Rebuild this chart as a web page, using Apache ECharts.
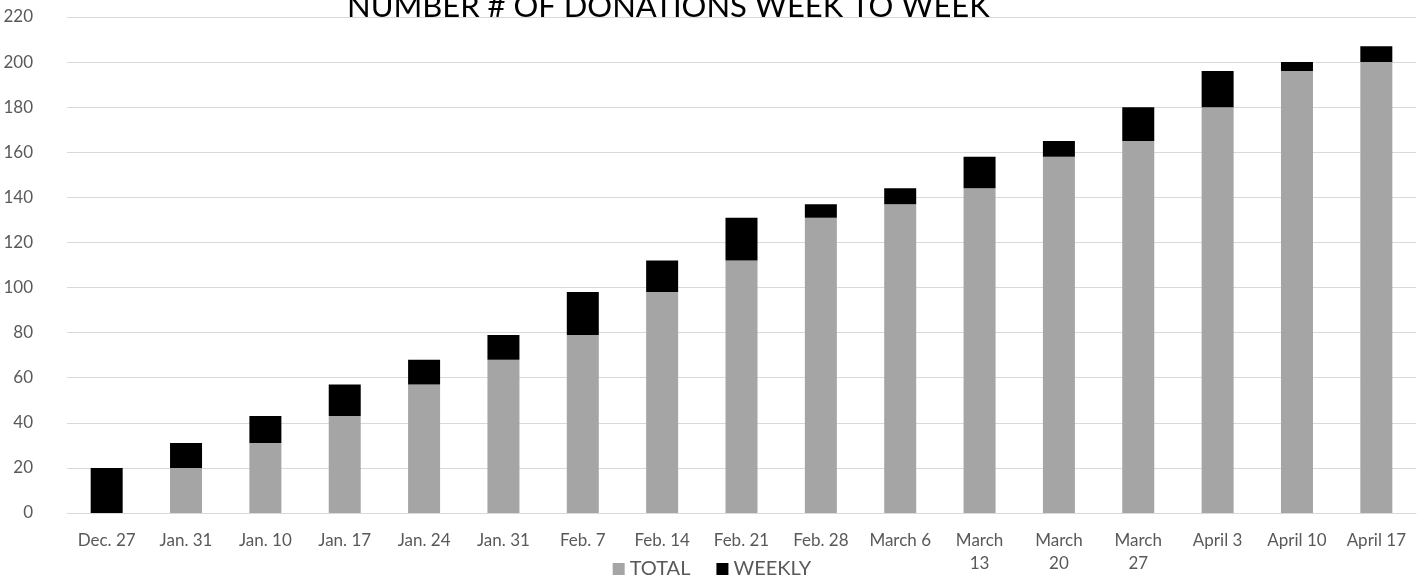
<!DOCTYPE html>
<html><head><meta charset="utf-8">
<script src="https://cdn.jsdelivr.net/npm/echarts@6/dist/echarts.min.js"></script>
<style>html,body{margin:0;padding:0;background:#fff}#c{width:1424px;height:584px}</style>
</head><body><div id="c"></div>
<script>
const categories = ["Dec. 27","Jan. 31","Jan. 10","Jan. 17","Jan. 24","Jan. 31","Feb. 7","Feb. 14","Feb. 21","Feb. 28","March 6","March\n13","March\n20","March\n27","April 3","April 10","April 17"];
const totalValues = [0,20,31,43,57,68,79,98,112,131,137,144,158,165,180,196,200];
const weeklyValues = [20,11,12,14,11,11,19,14,19,6,7,14,7,15,16,4,7];
const yTicks = {min:0,max:220,interval:20};
const FONT = 'Lato';
const chart = echarts.init(document.getElementById('c'));
chart.setOption({
  animation:false,
  textStyle:{fontFamily:FONT},
  title:{text:'NUMBER # OF DONATIONS WEEK TO WEEK',left:342,top:-14,
    textStyle:{fontFamily:FONT,fontSize:31,fontWeight:'normal',color:'#000'}},
  grid:{left:67,right:8,top:17,bottom:71},
  legend:{bottom:0,left:'center',itemWidth:12,itemHeight:12,itemGap:26,
    textStyle:{fontSize:20,color:'#595959',fontFamily:FONT},
    data:[{name:'TOTAL',icon:'rect'},{name:'WEEKLY',icon:'rect'}]},
  xAxis:{type:'category',data:categories,
    axisLine:{lineStyle:{color:'#d9d9d9'}},axisTick:{show:false},
    axisLabel:{color:'#595959',fontSize:17,margin:16,interval:0,lineHeight:23}},
  yAxis:{type:'value',min:yTicks.min,max:yTicks.max,interval:yTicks.interval,
    axisLine:{show:false},axisTick:{show:false},
    splitLine:{lineStyle:{color:'#d9d9d9'}},
    axisLabel:{color:'#595959',fontSize:17,margin:34}},
  series:[
    {name:'TOTAL',type:'bar',stack:'s',data:totalValues,barWidth:32,itemStyle:{color:'#a5a5a5'}},
    {name:'WEEKLY',type:'bar',stack:'s',data:weeklyValues,barWidth:32,itemStyle:{color:'#000000'}}
  ]
});
</script></body></html>
